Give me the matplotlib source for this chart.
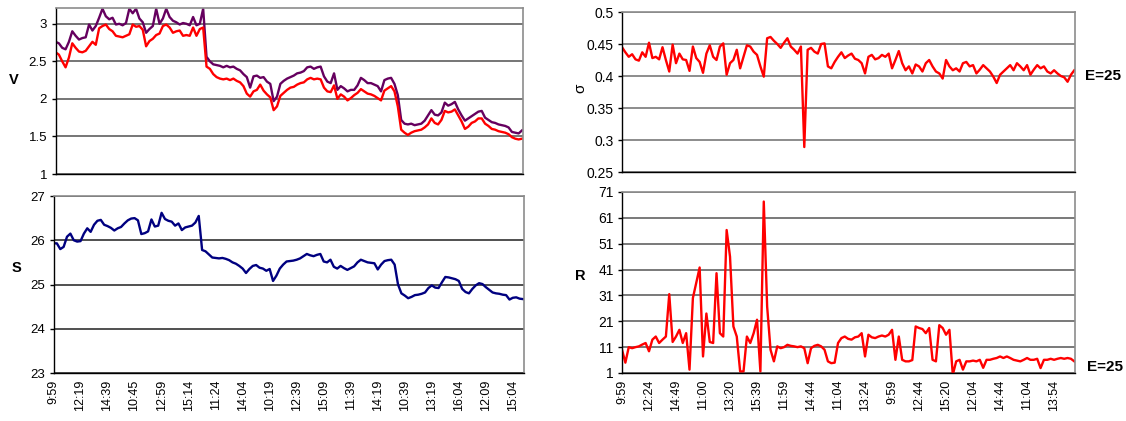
import matplotlib
matplotlib.use("Agg")
import matplotlib.pyplot as plt

plt.rcParams["font.family"] = ["Liberation Sans", "DejaVu Sans"]

# time labels (one label every 8 samples)
left_times = ["9:59", "12:19", "14:39", "10:45", "12:59", "15:14", "11:24", "14:04", "10:19",
              "12:39", "15:09", "11:39", "14:19", "10:39", "13:19", "16:04", "12:09", "15:04"]
right_times = ["9:59", "12:24", "14:49", "11:00", "13:20", "15:39", "11:59", "14:44", "11:04",
               "13:24", "9:59", "12:44", "15:20", "12:04", "14:44", "11:04", "13:54"]
step = 8

# V, two series
v_purple = [2.76, 2.74, 2.68, 2.66, 2.76, 2.90, 2.84, 2.79, 2.81, 2.82,
            2.99, 2.91, 2.97, 3.08, 3.20, 3.10, 3.06, 3.08, 2.99, 3.00,
            2.98, 3.01, 3.20, 3.14, 3.20, 3.07, 3.02, 2.88, 2.93, 2.97,
            3.20, 3.00, 3.07, 3.20, 3.09, 3.04, 3.02, 2.99, 3.01, 3.00,
            2.98, 3.09, 2.98, 3.00, 3.20, 2.56, 2.50, 2.46, 2.45, 2.44,
            2.42, 2.44, 2.42, 2.43, 2.40, 2.38, 2.33, 2.29, 2.15, 2.30,
            2.31, 2.28, 2.29, 2.23, 2.20, 1.97, 2.03, 2.20, 2.24, 2.27,
            2.29, 2.31, 2.34, 2.35, 2.37, 2.42, 2.43, 2.40, 2.42, 2.43,
            2.30, 2.23, 2.21, 2.34, 2.12, 2.17, 2.14, 2.10, 2.12, 2.12,
            2.18, 2.28, 2.25, 2.21, 2.21, 2.19, 2.17, 2.10, 2.25, 2.27,
            2.28, 2.20, 2.05, 1.72, 1.67, 1.66, 1.67, 1.65, 1.66, 1.67,
            1.71, 1.78, 1.85, 1.79, 1.78, 1.82, 1.95, 1.91, 1.93, 1.96,
            1.86, 1.78, 1.71, 1.74, 1.77, 1.80, 1.83, 1.84, 1.75, 1.72,
            1.69, 1.68, 1.66, 1.65, 1.64, 1.62, 1.56, 1.55, 1.54, 1.58]
v_red = [2.62, 2.59, 2.50, 2.42, 2.55, 2.74, 2.68, 2.63, 2.62, 2.64,
         2.70, 2.76, 2.72, 2.94, 2.97, 2.99, 2.93, 2.90, 2.84, 2.83,
         2.82, 2.84, 2.86, 2.99, 2.96, 2.97, 2.92, 2.70, 2.77, 2.80,
         2.85, 2.87, 2.97, 2.99, 2.95, 2.88, 2.90, 2.91, 2.84, 2.85,
         2.84, 2.95, 2.84, 2.93, 2.95, 2.43, 2.40, 2.33, 2.29, 2.27,
         2.26, 2.27, 2.25, 2.27, 2.24, 2.22, 2.17, 2.07, 2.03, 2.10,
         2.12, 2.19, 2.11, 2.06, 2.02, 1.85, 1.90, 2.04, 2.08, 2.12,
         2.15, 2.16, 2.19, 2.21, 2.22, 2.26, 2.28, 2.26, 2.27, 2.26,
         2.15, 2.10, 2.09, 2.18, 2.00, 2.06, 2.03, 1.98, 2.01, 2.05,
         2.08, 2.13, 2.10, 2.07, 2.06, 2.04, 2.01, 1.98, 2.11, 2.14,
         2.17, 2.10, 1.90, 1.59, 1.55, 1.52, 1.55, 1.57, 1.58, 1.59,
         1.62, 1.66, 1.74, 1.68, 1.66, 1.72, 1.84, 1.82, 1.83, 1.86,
         1.78, 1.70, 1.60, 1.63, 1.68, 1.70, 1.74, 1.74, 1.67, 1.64,
         1.60, 1.59, 1.57, 1.56, 1.55, 1.53, 1.49, 1.47, 1.46, 1.47]

# S
s_vals = [25.93, 25.93, 25.80, 25.85, 26.08, 26.15, 26.00, 25.97, 25.98, 26.15,
          26.27, 26.19, 26.35, 26.44, 26.46, 26.35, 26.32, 26.28, 26.22, 26.27,
          26.30, 26.38, 26.45, 26.49, 26.50, 26.45, 26.14, 26.16, 26.20, 26.47,
          26.31, 26.33, 26.62, 26.48, 26.44, 26.42, 26.33, 26.38, 26.23, 26.29,
          26.31, 26.33, 26.40, 26.55, 25.78, 25.75, 25.68, 25.61, 25.60, 25.59,
          25.60, 25.58, 25.55, 25.50, 25.47, 25.42, 25.36, 25.26, 25.35, 25.42,
          25.44, 25.38, 25.36, 25.31, 25.35, 25.08, 25.20, 25.36, 25.45, 25.52,
          25.53, 25.54, 25.56, 25.59, 25.64, 25.69, 25.66, 25.64, 25.67, 25.69,
          25.52, 25.50, 25.56, 25.40, 25.36, 25.42, 25.37, 25.33, 25.37, 25.41,
          25.50, 25.56, 25.53, 25.50, 25.49, 25.48, 25.34, 25.45, 25.53, 25.55,
          25.56, 25.45, 25.00, 24.80, 24.75, 24.69, 24.72, 24.76, 24.77, 24.79,
          24.82, 24.92, 24.98, 24.93, 24.92, 25.05, 25.17, 25.16, 25.14, 25.12,
          25.08, 24.90, 24.83, 24.80, 24.90, 24.98, 25.03, 25.01, 24.94, 24.88,
          24.82, 24.80, 24.79, 24.77, 24.76, 24.66, 24.70, 24.71, 24.68, 24.67]

# sigma
sigma_vals = [0.445, 0.437, 0.430, 0.434, 0.426, 0.424, 0.437, 0.430, 0.452, 0.428,
              0.430, 0.426, 0.445, 0.425, 0.407, 0.449, 0.420, 0.435, 0.426, 0.425,
              0.408, 0.446, 0.428, 0.422, 0.405, 0.435, 0.448, 0.430, 0.425, 0.446,
              0.451, 0.402, 0.420, 0.425, 0.441, 0.412, 0.430, 0.448, 0.446, 0.438,
              0.433, 0.415, 0.399, 0.459, 0.461, 0.455, 0.450, 0.444, 0.452, 0.459,
              0.446, 0.441, 0.435, 0.446, 0.289, 0.441, 0.444, 0.438, 0.435, 0.450,
              0.451, 0.415, 0.412, 0.422, 0.430, 0.437, 0.428, 0.432, 0.435, 0.427,
              0.425, 0.420, 0.404, 0.430, 0.433, 0.426, 0.428, 0.433, 0.430, 0.435,
              0.412, 0.425, 0.439, 0.420, 0.409, 0.415, 0.404, 0.418, 0.415, 0.407,
              0.420, 0.425, 0.415, 0.407, 0.404, 0.396, 0.425, 0.415, 0.409, 0.412,
              0.407, 0.420, 0.422, 0.415, 0.417, 0.404, 0.410, 0.417, 0.412, 0.407,
              0.399, 0.389, 0.402, 0.407, 0.412, 0.417, 0.409, 0.420, 0.415, 0.409,
              0.417, 0.402, 0.410, 0.417, 0.412, 0.415, 0.407, 0.404, 0.409, 0.404,
              0.400, 0.398, 0.391, 0.402, 0.409]

# R
r_vals = [10.0, 5.0, 11.0, 10.6, 11.0, 11.3, 12.0, 12.6, 9.4, 13.9,
          15.1, 12.6, 13.9, 15.1, 31.5, 13.0, 15.1, 17.7, 12.6, 16.4,
          2.3, 30.0, 36.0, 41.8, 7.4, 24.0, 13.0, 12.6, 39.6, 16.4,
          15.1, 56.3, 46.0, 19.0, 15.1, 1.6, 1.6, 15.1, 12.6, 16.4,
          21.6, 1.6, 67.3, 26.7, 10.0, 5.5, 11.3, 10.6, 11.0, 11.9,
          11.5, 11.3, 11.0, 11.3, 10.6, 4.8, 10.6, 11.5, 11.9, 11.3,
          10.0, 5.5, 4.8, 5.0, 12.6, 14.5, 15.1, 14.2, 13.9, 14.8,
          15.1, 16.4, 7.4, 15.8, 14.8, 14.5, 15.1, 15.5, 15.1, 15.8,
          17.7, 6.1, 15.1, 6.1, 5.5, 5.5, 6.0, 19.0, 18.4, 18.0,
          16.4, 18.4, 6.1, 5.5, 19.5, 18.4, 15.8, 17.7, 0.3, 5.5,
          6.1, 2.3, 5.5, 5.5, 5.8, 5.5, 6.1, 3.0, 6.1, 6.1,
          6.5, 6.8, 7.4, 6.8, 7.4, 6.8, 6.1, 5.8, 5.5, 6.1,
          6.8, 6.1, 6.1, 6.5, 2.9, 6.1, 6.1, 6.5, 6.1, 6.5,
          6.8, 6.5, 6.8, 6.5, 5.5]

W, H = 1126, 421


def px_axes(fig, left, right, top, bottom):
    return fig.add_axes([left / W, 1 - bottom / H, (right - left) / W, (bottom - top) / H])


def style(ax, ylim, yticks, ylabels, xlim, xticks, xlabels=None, ysize=9.5, grid="#3c3c3c"):
    ax.set_ylim(*ylim)
    ax.set_xlim(*xlim)
    ax.set_yticks(yticks)
    ax.set_yticklabels(ylabels)
    ax.yaxis.grid(True, color=grid, lw=1.1)
    ax.set_axisbelow(True)
    ax.set_xticks(xticks)
    if xlabels:
        ax.set_xticklabels(xlabels, rotation=90)
    else:
        ax.set_xticklabels([])
    ax.tick_params(axis="x", length=0, pad=5, labelsize=9)
    ax.tick_params(axis="y", length=3, width=1, pad=3, labelsize=ysize)
    for side in ("top", "right"):
        ax.spines[side].set_color("#8c8c8c")
        ax.spines[side].set_linewidth(1.2)
    for side in ("left", "bottom"):
        ax.spines[side].set_color("black")
        ax.spines[side].set_linewidth(1.0)


fig = plt.figure(figsize=(W / 100, H / 100), dpi=100)

left_x = list(range(len(v_purple)))
left_ticks = [i * step for i in range(len(left_times))]
right_x = list(range(len(sigma_vals)))
right_ticks = [i * step for i in range(len(right_times))]

# V panel
ax_v = px_axes(fig, 55.5, 523, 8, 174)
ax_v.plot(left_x, v_purple, color="#66005f", lw=1.7)
ax_v.plot(left_x, v_red, color="#ff0000", lw=1.7)
style(ax_v, (1, 3.21), [1, 1.5, 2, 2.5, 3], ["1", "1.5", "2", "2.5", "3"],
      (0, 139.3), left_ticks, grid="#505050")

# S panel
ax_s = px_axes(fig, 53.5, 524, 196, 373)
ax_s.plot(left_x, s_vals, color="#000080", lw=1.7)
style(ax_s, (23, 27), [23, 24, 25, 26, 27], ["23", "24", "25", "26", "27"],
      (0, 139.3), left_ticks, left_times, grid="#202020")

# sigma panel
ax_sig = px_axes(fig, 622, 1075, 12, 172)
ax_sig.plot(right_x, sigma_vals, color="#ff0000", lw=1.7)
style(ax_sig, (0.25, 0.5), [0.25, 0.3, 0.35, 0.4, 0.45, 0.5],
      ["0.25", "0.3", "0.35", "0.4", "0.45", "0.5"], (0, 134.2), right_ticks,
      ysize=10, grid="#6e6e6e")

# R panel
ax_r = px_axes(fig, 622, 1075, 192, 373)
ax_r.plot(right_x, r_vals, color="#ff0000", lw=1.7)
style(ax_r, (1, 71), list(range(1, 72, 10)), [str(v) for v in range(1, 72, 10)],
      (0, 134.2), right_ticks, right_times, ysize=10, grid="#555555")

# axis names and side notes
fig.text(13.5 / W, 1 - 80 / H, "V", fontsize=10.5, fontweight="bold", ha="center", va="center")
fig.text(16 / W, 1 - 268 / H, "S", fontsize=10.5, fontweight="bold", ha="center", va="center")
fig.text(580 / W, 1 - 88 / H, "σ", fontsize=11, rotation=90, ha="center", va="center")
fig.text(580 / W, 1 - 276 / H, "R", fontsize=10.5, fontweight="bold", ha="center", va="center")
fig.text(1085 / W, 1 - 76 / H, "E=25", fontsize=11, fontweight="bold", ha="left", va="center")
fig.text(1087 / W, 1 - 367 / H, "E=25", fontsize=11, fontweight="bold", ha="left", va="center")

fig.savefig("out.png", dpi=100)
